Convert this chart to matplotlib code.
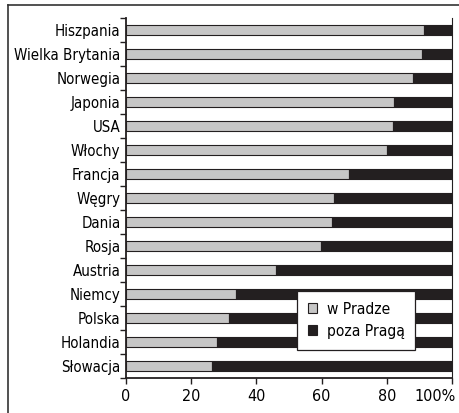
import matplotlib
matplotlib.use('Agg')
import matplotlib.pyplot as plt
import matplotlib.transforms as mtransforms
from matplotlib import font_manager
from matplotlib.lines import Line2D

names = {f.name for f in font_manager.fontManager.ttflist}
FONT = 'Liberation Sans Narrow' if 'Liberation Sans Narrow' in names else 'DejaVu Sans'
plt.rcParams['font.family'] = [FONT, 'DejaVu Sans']
if FONT == 'DejaVu Sans':
    plt.rcParams['font.stretch'] = 'condensed'

countries = ['Hiszpania', 'Wielka Brytania', 'Norwegia', 'Japonia', 'USA',
             'Włochy', 'Francja', 'Węgry', 'Dania', 'Rosja', 'Austria',
             'Niemcy', 'Polska', 'Holandia', 'Słowacja']
w_pradze = [91.3, 90.9, 88.1, 82.3, 81.9, 80.2, 68.3, 63.9, 63.3, 59.8,
            45.9, 33.6, 31.5, 28.0, 26.4]
poza_praga = [100 - v for v in w_pradze]
xticks = [0, 20, 40, 60, 80, 100]
xlabels = ['0', '20', '40', '60', '80', '100%']

GRAY = '#c6c6c6'
BLACK = '#231f20'

fig = plt.figure(figsize=(4.59, 4.13), dpi=100)
ax = fig.add_axes([126 / 459, 1 - 378 / 413, 326 / 459, 360 / 413])

ypos = list(range(len(countries)))
ax.barh(ypos, w_pradze, height=0.44, color=GRAY, edgecolor=BLACK,
        linewidth=0.8, label='w Pradze')
ax.barh(ypos, poza_praga, left=w_pradze, height=0.44, color=BLACK,
        edgecolor=BLACK, linewidth=0.8, label='poza Pragą')

ax.set_xlim(0, 100)
ax.set_ylim(len(countries) - 0.5, -0.5)
ax.set_xticks(xticks)
ax.set_xticklabels(xlabels, fontsize=11.5)
ax.set_yticks(ypos)
ax.set_yticklabels(countries, fontsize=10.8)
ax.tick_params(axis='y', length=0, pad=4)
ax.set_yticks([i - 0.5 for i in range(len(countries) + 1)], minor=True)
ax.tick_params(axis='y', which='minor', length=4, width=1, color=BLACK)
ax.tick_params(axis='x', length=4, width=1, color=BLACK, pad=4)

# keep "100%" inside the picture, as in the original
last = ax.get_xticklabels()[-1]
last.set_horizontalalignment('right')
last.set_transform(last.get_transform() +
                   mtransforms.ScaledTranslation(4 / 100, 0, fig.dpi_scale_trans))

ax.spines['top'].set_visible(False)
for s in ['left', 'bottom', 'right']:
    ax.spines[s].set_color(BLACK)
ax.spines['left'].set_linewidth(1.3)
ax.spines['bottom'].set_linewidth(1.3)
ax.spines['right'].set_linewidth(0.8)

leg = ax.legend(loc='upper left', bbox_to_anchor=(0.525, 0.242), fontsize=11.2,
                frameon=True, fancybox=False, handlelength=0.6,
                handleheight=0.6, handletextpad=0.6, borderpad=0.7,
                labelspacing=0.45, borderaxespad=0)
leg.get_frame().set_edgecolor(BLACK)
leg.get_frame().set_linewidth(0.9)
leg.get_frame().set_alpha(1)

# outer frame
fig.add_artist(Line2D([8 / 459, 8 / 459], [0, 1 - 5 / 413],
                      color='#333333', linewidth=1.2))
fig.add_artist(Line2D([8 / 459, 1], [1 - 5 / 413, 1 - 5 / 413],
                      color='#333333', linewidth=1.2))

fig.savefig('out.png', dpi=100)
